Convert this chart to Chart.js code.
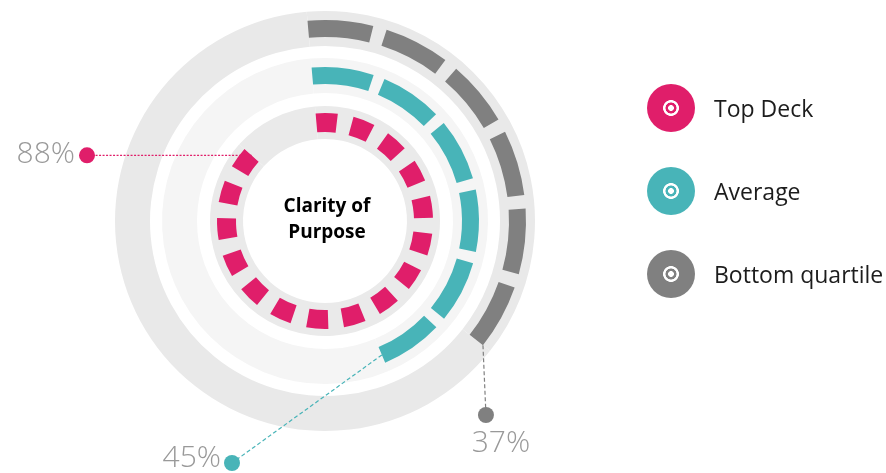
<!DOCTYPE html>
<html>
<head>
<meta charset="utf-8">
<script src="https://cdn.jsdelivr.net/npm/chart.js@4.4.1/dist/chart.umd.min.js"></script>
<style>
  body { margin: 0; background: #fff; }
  #wrap { position: relative; width: 886px; height: 473px; overflow: hidden; }
  #legend { position: absolute; left: 647px; top: 84px; font-family: "Open Sans", "Noto Sans", sans-serif; }
  .item { display: flex; align-items: center; height: 48px; margin-bottom: 35px; }
  .icon { width: 48px; height: 48px; border-radius: 50%; flex: none; }
  .name { margin-left: 19px; font-size: 23px; color: #1c1c1c; white-space: nowrap; }
</style>
</head>
<body>
<div id="wrap">
  <canvas id="chart" width="886" height="473"></canvas>
  <div id="legend"></div>
</div>
<script>
// Series (innermost ring first)
const seriesNames = ['Top Deck', 'Average', 'Bottom quartile'];
const seriesValues = [88, 45, 37]; // percent
const seriesColors = ['#e01e6a', '#48b4b8', '#808080'];
const centerLabel = ['Clarity of', 'Purpose'];

// ring look, same order as the series
const ringStyle = [
  { track: '#eaeaea', weight: 33, seg: 20.5, gap: 14.7, width: 19 },
  { track: '#f5f5f5', weight: 35, seg: 60, gap: 11, width: 17 },
  { track: '#e9e9e9', weight: 35, seg: 60, gap: 12.5, width: 17 }
];

// legend
const legend = document.getElementById('legend');
seriesNames.forEach(function(name, i) {
  const c = seriesColors[i];
  const item = document.createElement('div');
  item.className = 'item';
  item.innerHTML = '<div class="icon" style="background: radial-gradient(circle, #fff 0 2.6px, ' + c +
    ' 3.2px 5.2px, #fff 5.8px 7.6px, ' + c + ' 8.2px)"></div><div class="name">' + name + '</div>';
  legend.appendChild(item);
});

// datasets are listed outer to inner, with white spacer rings in between
const datasets = [];
const ringIndex = [];
[2, 1, 0].forEach(function(s, k) {
  if (k > 0) {
    datasets.push({ data: [1], backgroundColor: ['rgba(0,0,0,0)'], weight: k === 1 ? 12 : 13 });
  }
  ringIndex[s] = datasets.length;
  datasets.push({
    label: seriesNames[s],
    data: [seriesValues[s], 100 - seriesValues[s]],
    backgroundColor: [ringStyle[s].track, ringStyle[s].track],
    weight: ringStyle[s].weight
  });
});

const ringPlugin = {
  id: 'rings',
  afterDatasetsDraw(chart) {
    const ctx = chart.ctx;
    const ends = [];
    seriesValues.forEach(function(v, s) {
      const arc = chart.getDatasetMeta(ringIndex[s]).data[0];
      const st = ringStyle[s];
      const mid = (arc.innerRadius + arc.outerRadius) / 2;
      const len = (arc.endAngle - arc.startAngle) * mid;
      const n = Math.max(1, Math.round((len + st.gap) / (st.seg + st.gap)));
      const k = len / (n * st.seg + (n - 1) * st.gap);
      ctx.save();
      ctx.strokeStyle = seriesColors[s];
      ctx.lineWidth = st.width;
      ctx.lineCap = 'butt';
      ctx.setLineDash([st.seg * k, st.gap * k]);
      ctx.beginPath();
      ctx.arc(arc.x, arc.y, mid, arc.startAngle, arc.endAngle);
      ctx.stroke();
      ctx.restore();
      const r = s === 2 ? mid + st.width / 2 : mid;
      ends[s] = { x: arc.x + r * Math.cos(arc.endAngle), y: arc.y + r * Math.sin(arc.endAngle) };
    });

    // callouts
    const dots = [
      { x: 87, y: ends[0].y },
      { x: 232, y: 463 },
      { x: ends[2].x + 3, y: 415 }
    ];
    const dashes = [[2, 1.5], [4, 2.5], [4, 2.5]];
    ctx.save();
    ctx.font = '300 30px "Open Sans", "Noto Sans", sans-serif';
    seriesValues.forEach(function(v, s) {
      const e = ends[s], d = dots[s];
      ctx.strokeStyle = seriesColors[s];
      ctx.lineWidth = 1.2;
      ctx.setLineDash(dashes[s]);
      ctx.beginPath();
      ctx.moveTo(e.x, e.y);
      ctx.lineTo(d.x, d.y);
      ctx.stroke();
      ctx.setLineDash([]);
      ctx.fillStyle = seriesColors[s];
      ctx.beginPath();
      ctx.arc(d.x, d.y, 8, 0, Math.PI * 2);
      ctx.fill();
      ctx.fillStyle = '#999';
      const txt = v + '%';
      if (s === 0) {
        ctx.textAlign = 'right'; ctx.textBaseline = 'middle';
        ctx.fillText(txt, d.x - 12, d.y - 1);
      } else if (s === 1) {
        ctx.textAlign = 'right'; ctx.textBaseline = 'middle';
        ctx.fillText(txt, d.x - 11, d.y - 5);
      } else {
        ctx.textAlign = 'center'; ctx.textBaseline = 'top';
        ctx.fillText(txt, d.x + 15, d.y + 13);
      }
    });

    // center label
    const a = chart.getDatasetMeta(ringIndex[0]).data[0];
    ctx.fillStyle = '#000';
    ctx.font = 'bold 19px "Open Sans", "Noto Sans", sans-serif';
    ctx.textAlign = 'center';
    ctx.textBaseline = 'middle';
    ctx.fillText(centerLabel[0], a.x + 2, a.y - 14);
    ctx.fillText(centerLabel[1], a.x + 2, a.y + 12);
    ctx.restore();
  }
};

new Chart(document.getElementById('chart').getContext('2d'), {
  type: 'doughnut',
  data: { labels: ['value', 'rest'], datasets: datasets },
  options: {
    responsive: false,
    animation: false,
    events: [],
    cutout: 82,
    rotation: -5,
    borderWidth: 0,
    hoverBorderWidth: 0,
    offset: 0,
    hoverOffset: 0,
    layout: { padding: { left: 115, right: 351, top: 11, bottom: 42 } },
    plugins: { legend: { display: false }, tooltip: { enabled: false } }
  },
  plugins: [ringPlugin]
});
</script>
</body>
</html>
